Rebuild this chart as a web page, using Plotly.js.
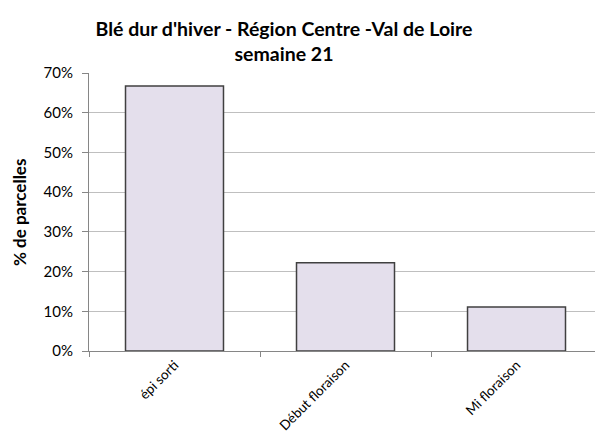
<!DOCTYPE html>
<html>
<head>
<meta charset="utf-8">
<script src="https://cdn.plot.ly/plotly-3.0.1.min.js"></script>
<style>html,body{margin:0;padding:0;background:#fff;}#chart{width:595px;height:434px;}</style>
</head>
<body>
<div id="chart"></div>
<script>
const categories = ["épi sorti", "Début floraison", "Mi floraison"];
const values = [0.667, 0.222, 0.111];
const yTickVals = [0, 0.1, 0.2, 0.3, 0.4, 0.5, 0.6, 0.7];
const yTickText = ["0%", "10%", "20%", "30%", "40%", "50%", "60%", "70%"];
const titleLines = ["Blé dur d'hiver - Région Centre -Val de Loire", "semaine 21"];
const yTitle = "% de parcelles";

const FONT = "Lato, 'Open Sans', sans-serif";

const trace = {
  type: "bar",
  x: categories,
  y: values,
  width: 0.573,
  marker: { color: "#E4DFEC", line: { color: "#404040", width: 1.5 } },
  hoverinfo: "none"
};

const layout = {
  width: 595, height: 434,
  margin: { l: 89, r: 0, t: 73, b: 83 },
  paper_bgcolor: "#fff", plot_bgcolor: "#fff",
  font: { family: FONT, color: "#000", size: 13 },
  showlegend: false,
  title: {
    text: "<b>" + titleLines.join("<br>") + "</b>",
    font: { family: FONT, size: 19.5, color: "#000" },
    x: 284 / 595, xanchor: "center",
    y: 1 - 36 / 434, yanchor: "middle", yref: "container"
  },
  xaxis: {
    type: "category",
    range: [-0.5, 2.459],
    tickson: "boundaries",
    ticks: "outside", ticklen: 5, tickcolor: "#868686", tickwidth: 1,
    showline: true, linecolor: "#868686", linewidth: 1,
    showgrid: false, zeroline: false,
    tickangle: -45,
    tickfont: { family: FONT, size: 13.5, color: "#000" },
    automargin: false,
    fixedrange: true
  },
  yaxis: {
    range: [0, 0.7],
    tickvals: yTickVals, ticktext: yTickText,
    ticks: "outside", ticklen: 6, tickcolor: "#868686",
    ticklabelstandoff: 6,
    showline: true, linecolor: "#868686", linewidth: 1,
    showgrid: true, gridcolor: "#BFBFBF", gridwidth: 1,
    zeroline: false,
    tickfont: { family: FONT, size: 15, color: "#000" },
    automargin: false,
    fixedrange: true
  },
  annotations: [{
    text: "<b>" + yTitle + "</b>",
    textangle: -90,
    xref: "paper", yref: "paper",
    x: (19 - 89) / 506, y: (351 - 213) / 278,
    xanchor: "center", yanchor: "middle",
    showarrow: false,
    font: { family: FONT, size: 17, color: "#000" }
  }],
  bargap: 0.427
};

Plotly.newPlot("chart", [trace], layout, { displayModeBar: false, staticPlot: true });
</script>
</body>
</html>
